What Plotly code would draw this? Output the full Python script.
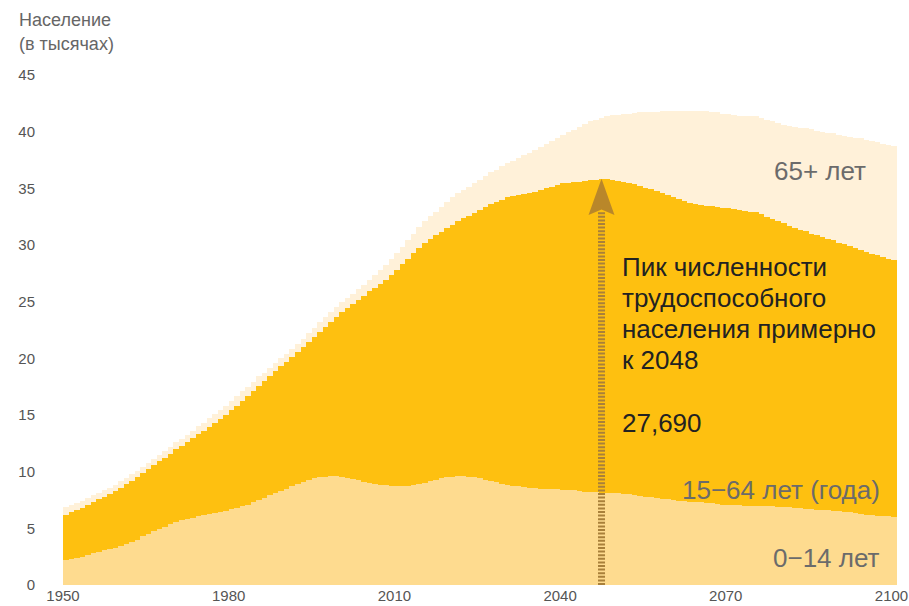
import plotly.graph_objects as go

years = list(range(1950, 2101))

age_0_14 = [
    2.2, 2.3, 2.4, 2.5, 2.65, 2.8, 2.9, 3.05, 3.15, 3.3, 3.4,
    3.6, 3.8, 4.0, 4.3, 4.5, 4.75, 4.95, 5.15, 5.4, 5.6,
    5.7, 5.8, 5.95, 6.05, 6.2, 6.3, 6.35, 6.45, 6.55, 6.7,
    6.8, 6.95, 7.1, 7.3, 7.5, 7.7, 7.9, 8.1, 8.3, 8.5,
    8.7, 8.9, 9.1, 9.25, 9.4, 9.5, 9.55, 9.6, 9.6, 9.55,
    9.45, 9.35, 9.25, 9.1, 9.0, 8.9, 8.85, 8.8, 8.75, 8.7,
    8.7, 8.75, 8.8, 8.9, 9.0, 9.15, 9.3, 9.45, 9.5, 9.55,
    9.6, 9.6, 9.55, 9.5, 9.4, 9.3, 9.15, 9.05, 8.9, 8.8,
    8.75, 8.7, 8.65, 8.6, 8.55, 8.5, 8.5, 8.45, 8.45, 8.4,
    8.35, 8.35, 8.3, 8.25, 8.2, 8.2, 8.15, 8.15, 8.1, 8.1,
    8.05, 8.0, 7.95, 7.85, 7.8, 7.75, 7.7, 7.6, 7.55, 7.5,
    7.45, 7.4, 7.35, 7.3, 7.3, 7.25, 7.2, 7.15, 7.1, 7.05,
    7.05, 7.05, 7.0, 7.0, 7.0, 7.0, 6.95, 6.95, 6.9, 6.9,
    6.85, 6.8, 6.8, 6.75, 6.7, 6.65, 6.6, 6.6, 6.55, 6.5,
    6.45, 6.4, 6.35, 6.3, 6.2, 6.15, 6.1, 6.1, 6.05, 6.0,
]

age_15_64 = [
    4.0, 4.1, 4.2, 4.3, 4.4, 4.5, 4.65, 4.75, 4.9, 5.0, 5.2,
    5.3, 5.4, 5.5, 5.55, 5.7, 5.8, 5.95, 6.1, 6.2, 6.4,
    6.6, 6.8, 7.0, 7.25, 7.4, 7.65, 7.95, 8.2, 8.45, 8.7,
    9.0, 9.3, 9.6, 9.85, 10.1, 10.3, 10.5, 10.75, 11.0, 11.2,
    11.4, 11.65, 11.9, 12.2, 12.5, 12.85, 13.25, 13.6, 14.05, 14.55,
    15.0, 15.45, 15.9, 16.4, 16.9, 17.35, 17.75, 18.15, 18.6, 19.1,
    19.6, 20.05, 20.5, 20.85, 21.2, 21.4, 21.55, 21.7, 22.0, 22.25,
    22.5, 22.75, 23.05, 23.35, 23.7, 24.05, 24.45, 24.75, 25.1, 25.4,
    25.55, 25.7, 25.85, 26.0, 26.15, 26.35, 26.5, 26.7, 26.85, 27.05,
    27.15, 27.2, 27.3, 27.4, 27.5, 27.55, 27.65, 27.69, 27.65, 27.55,
    27.5, 27.45, 27.4, 27.35, 27.25, 27.15, 27.05, 27.0, 26.85, 26.7,
    26.6, 26.5, 26.4, 26.3, 26.2, 26.2, 26.2, 26.2, 26.2, 26.25,
    26.15, 26.05, 26.0, 25.95, 25.9, 25.7, 25.55, 25.35, 25.2, 25.0,
    24.85, 24.7, 24.55, 24.45, 24.3, 24.2, 24.1, 23.95, 23.85, 23.7,
    23.6, 23.5, 23.4, 23.3, 23.2, 23.1, 23.0, 22.85, 22.75, 22.7,
]

age_65_plus = [
    0.7, 0.7, 0.65, 0.65, 0.6, 0.6, 0.6, 0.55, 0.55, 0.55, 0.55,
    0.55, 0.6, 0.6, 0.6, 0.6, 0.6, 0.6, 0.6, 0.6, 0.6,
    0.6, 0.65, 0.65, 0.7, 0.7, 0.75, 0.75, 0.8, 0.8, 0.85,
    0.85, 0.85, 0.8, 0.8, 0.8, 0.75, 0.75, 0.7, 0.7, 0.7,
    0.7, 0.75, 0.75, 0.8, 0.8, 0.85, 0.85, 0.85, 0.85, 0.85,
    0.85, 0.9, 0.95, 1.0, 1.05, 1.1, 1.2, 1.3, 1.4, 1.5,
    1.55, 1.6, 1.7, 1.8, 1.9, 2.0, 2.1, 2.2, 2.3, 2.4,
    2.45, 2.5, 2.55, 2.6, 2.65, 2.7, 2.8, 2.85, 2.95, 3.0,
    3.15, 3.3, 3.45, 3.55, 3.7, 3.8, 3.9, 4.0, 4.15, 4.25,
    4.45, 4.6, 4.8, 5.0, 5.2, 5.3, 5.4, 5.5, 5.7, 5.85,
    6.0, 6.15, 6.3, 6.5, 6.65, 6.85, 7.0, 7.2, 7.4, 7.6,
    7.75, 7.9, 8.05, 8.2, 8.3, 8.35, 8.35, 8.35, 8.3, 8.3,
    8.3, 8.3, 8.35, 8.4, 8.45, 8.5, 8.55, 8.6, 8.65, 8.7,
    8.8, 8.9, 9.0, 9.1, 9.2, 9.25, 9.3, 9.35, 9.45, 9.5,
    9.55, 9.6, 9.7, 9.8, 9.9, 9.95, 9.95, 10.0, 10.0, 10.0,
]

x_ticks = [1950, 1980, 2010, 2040, 2070, 2100]
y_ticks = [0, 5, 10, 15, 20, 25, 30, 35, 40, 45]

peak_year = 2048
peak_value = "27,690"

series = [
    ("0−14 лет", age_0_14, "#FEDB8F"),
    ("15−64 лет (года)", age_15_64, "#FEC010"),
    ("65+ лет", age_65_plus, "#FFF1D9"),
]

W, H = 909, 606
ML, MR, MT, MB = 63, 12, 75, 21
PW, PH = W - ML - MR, H - MT - MB


def px(xp):
    return (xp - ML) / PW


def py(yp):
    return (H - MB - yp) / PH


fig = go.Figure()
for name, vals, col in series:
    fig.add_trace(go.Bar(
        x=years, y=vals, name=name, offset=0, width=1,
        marker=dict(color=col, line=dict(width=0)),
        hoverinfo="x+y+name",
    ))

idx = years.index(peak_year)
tip = age_0_14[idx] + age_15_64[idx]
ax = peak_year - 0.5
arrow_col = "#B5842C"

fig.add_shape(type="line", xref="x", yref="y", x0=ax, x1=ax, y0=0, y1=tip - 2.9,
              line=dict(color="#A9803A", width=7, dash="2px,1.6px"), layer="above")
hw = 2.35
fig.add_shape(type="path", xref="x", yref="y",
              path=f"M {ax} {tip} L {ax - hw} {tip - 3.2} L {ax} {tip - 2.7} L {ax + hw} {tip - 3.2} Z",
              fillcolor=arrow_col, line=dict(width=0), opacity=0.95, layer="above")

anns = []
FONT = "Liberation Sans, Arial, sans-serif"
anns.append(dict(x=px(17), y=py(20), text="Население", xanchor="left", yanchor="middle",
                 font=dict(size=18, color="#666666", family=FONT)))
anns.append(dict(x=px(17), y=py(44), text="(в тысячах)", xanchor="left", yanchor="middle",
                 font=dict(size=18, color="#666666", family=FONT)))

peak_lines = ["Пик численности", "трудоспособного", "населения примерно", f"к {peak_year}"]
for i, ln in enumerate(peak_lines):
    anns.append(dict(x=px(620), y=py(267 + 31 * i), text=ln, xanchor="left", yanchor="middle",
                     font=dict(size=26, color="#222222", family=FONT)))
anns.append(dict(x=px(620), y=py(423), text=peak_value, xanchor="left", yanchor="middle",
                 font=dict(size=26, color="#222222", family=FONT)))

anns.append(dict(x=px(868), y=py(171), text="65+ лет", xanchor="right", yanchor="middle",
                 font=dict(size=26, color="#6b6b6b", family=FONT)))
anns.append(dict(x=px(882), y=py(490), text="15−64 лет (года)", xanchor="right", yanchor="middle",
                 font=dict(size=26, color="#6b6b6b", family=FONT)))
anns.append(dict(x=px(882), y=py(558), text="0−14 лет", xanchor="right", yanchor="middle",
                 font=dict(size=26, color="#6b6b6b", family=FONT)))

for a in anns:
    a.update(xref="paper", yref="paper", showarrow=False)

fig.update_layout(
    width=W, height=H,
    margin=dict(l=ML, r=MR, t=MT, b=MB, pad=0),
    barmode="stack", bargap=0,
    plot_bgcolor="white", paper_bgcolor="white",
    showlegend=False,
    annotations=anns,
    font=dict(family=FONT),
    xaxis=dict(range=[1950, 2101], tickvals=x_ticks, showgrid=False, zeroline=False,
               showline=False, ticks="", automargin=False,
               tickfont=dict(size=15, color="#555555", family=FONT)),
    yaxis=dict(range=[0, 45], tickvals=y_ticks, showgrid=False, zeroline=False,
               showline=False, ticks="", automargin=False, ticklabelstandoff=27,
               tickfont=dict(size=15, color="#555555", family=FONT)),
)

fig.write_html(
    "out.html",
    config={"displayModeBar": False},
    post_script="document.body.style.margin='0';document.body.style.padding='0';",
)
